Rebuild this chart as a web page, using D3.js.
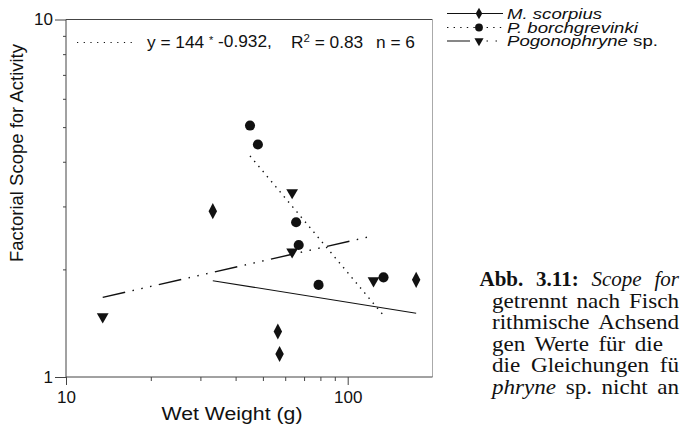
<!DOCTYPE html>
<html><head><meta charset="utf-8">
<script src="https://cdn.jsdelivr.net/npm/d3@7"></script>
<style>
html,body{margin:0;padding:0;background:#fff;}
svg{display:block;}
text{font-family:"Liberation Sans",Arial,sans-serif;fill:#111;}
.serif{font-family:"Liberation Serif","Times New Roman",serif;}
</style></head>
<body>
<svg id="c" width="680" height="427"></svg>
<script>
// ---- data ----
const seriesNames = ["M. scorpius", "P. borchgrevinki", "Pogonophryne sp."];
const mScorpiusWeight = [33.2, 56.5, 57.3, 175];
const mScorpiusScope  = [2.91, 1.34, 1.16, 1.87];
const pBorchWeight = [45.0, 48.0, 65.6, 67.0, 78.8, 134];
const pBorchScope  = [5.05, 4.47, 2.71, 2.34, 1.81, 1.90];
const pogoWeight = [13.5, 63.5, 63.5, 123.5];
const pogoScope  = [1.475, 3.28, 2.24, 1.86];
const xMajorTicks = [10, 100];
const xMinorTicks = [20, 30, 40, 50, 60, 70, 80, 90];
const yMajorTicks = [1, 10];
const yMinorTicks = [2, 3, 4, 5, 6, 7, 8, 9];
const fitText = ["y = 144 ", "*", " -0.932,", "R", "2", " = 0.83", "n = 6"];
const xTitle = "Wet Weight (g)";
const yTitle = "Factorial Scope for Activity";
const captionLines = [
  [["Abb. 3.11:", "b"], [" Scope for", "i"]],
  [["getrennt nach Fisch", ""]],
  [["rithmische Achsend", ""]],
  [["gen Werte für die", ""]],
  [["die Gleichungen fü", ""]],
  [["phryne", "i"], [" sp. nicht an", ""]]
];
const captionEnds = [679, 679, 679, 663, 679, 679];

// ---- setup ----
const svg = d3.select("#c");
const X0 = 66, X1 = 432.5, Y0 = 19.5, Y1 = 377;
const x = d3.scaleLog().domain([10, 200]).range([X0, X1]);
const y = d3.scaleLog().domain([1, 10]).range([Y1, Y0]);
const ink = "#111";

// frame
svg.append("line").attr("x1", X0).attr("x2", X1).attr("y1", Y0).attr("y2", Y0).attr("stroke", "#444");
svg.append("line").attr("x1", X1).attr("x2", X1).attr("y1", Y0).attr("y2", Y1).attr("stroke", "#aaa");
svg.append("line").attr("x1", X0).attr("x2", X1).attr("y1", Y1).attr("y2", Y1).attr("stroke", "#444");
svg.append("line").attr("x1", X0).attr("x2", X0).attr("y1", Y0).attr("y2", Y1).attr("stroke", "#444");

// axes ticks
const gx = svg.append("g").attr("transform", `translate(0,${Y1})`);
gx.call(d3.axisBottom(x).tickValues(xMinorTicks).tickSize(4).tickFormat(""));
gx.select(".domain").remove();
const gx2 = svg.append("g").attr("transform", `translate(0,${Y1})`);
gx2.call(d3.axisBottom(x).tickValues(xMajorTicks).tickSize(8).tickPadding(6).tickFormat(d3.format("d")));
gx2.select(".domain").remove();
gx.selectAll("line").attr("stroke", "#444");
gx2.selectAll("line").attr("stroke", "#444");
gx2.selectAll("text").attr("font-size", 17).attr("font-family", "Liberation Sans").attr("fill", ink);

const gy = svg.append("g").attr("transform", `translate(${X0},0)`);
gy.call(d3.axisLeft(y).tickValues(yMinorTicks).tickSize(3).tickFormat(""));
gy.select(".domain").remove();
const gy2 = svg.append("g").attr("transform", `translate(${X0},0)`);
gy2.call(d3.axisLeft(y).tickValues(yMajorTicks).tickSize(11).tickPadding(2).tickFormat(d3.format("d")));
gy2.select(".domain").remove();
gy.selectAll("line").attr("stroke", "#444");
gy2.selectAll("line").attr("stroke", "#444");
gy2.selectAll("text").attr("font-size", 17).attr("font-family", "Liberation Sans").attr("fill", ink);

// titles
svg.append("text").attr("transform", "translate(232,420) scale(1.12,1)").attr("text-anchor", "middle")
  .attr("font-size", 19).text(xTitle);
svg.append("text").attr("transform", "translate(23,153) rotate(-90)").attr("text-anchor", "middle")
  .attr("font-size", 18.5).text(yTitle);

// regression helper (log-log least squares)
function fit(ws, ss) {
  const lx = ws.map(Math.log10), ly = ss.map(Math.log10);
  const mx = d3.mean(lx), my = d3.mean(ly);
  const b = d3.sum(lx, (v, i) => (v - mx) * (ly[i] - my)) / d3.sum(lx, v => (v - mx) ** 2);
  const a = my - b * mx;
  const [lo, hi] = d3.extent(ws);
  return [[lo, 10 ** (a + b * Math.log10(lo))], [hi, 10 ** (a + b * Math.log10(hi))]];
}
const line = d3.line().x(d => x(d[0])).y(d => y(d[1]));
const styles = [
  {dash: null, sym: d3.symbolDiamond, size: 62, rot: 0},
  {dash: "1.4,5.2", sym: d3.symbolCircle, size: 80, rot: 0},
  {dash: "23,7.5,1.5,7.5,1.5,7.5,1.5,7.5", sym: d3.symbolTriangle, size: 60, rot: 180}
];
const sets = [
  [mScorpiusWeight, mScorpiusScope],
  [pBorchWeight, pBorchScope],
  [pogoWeight, pogoScope]
];
sets.forEach(([ws, ss], k) => {
  svg.append("path").attr("d", line(fit(ws, ss))).attr("fill", "none")
    .attr("stroke", ink).attr("stroke-width", k === 0 ? 1.1 : 1.4)
    .attr("stroke-dasharray", styles[k].dash);
});
sets.forEach(([ws, ss], k) => {
  const st = styles[k];
  const sym = d3.symbol().type(st.sym).size(st.size);
  svg.selectAll(null).data(ws.map((w, i) => [w, ss[i]])).enter().append("path")
    .attr("d", sym)
    .attr("transform", d => `translate(${x(d[0])},${y(d[1])}) rotate(${st.rot})` + (k === 0 ? " scale(1,1.1)" : ""))
    .attr("fill", ink);
});

// fit annotation
svg.append("line").attr("x1", 77).attr("x2", 134).attr("y1", 42.5).attr("y2", 42.5)
  .attr("stroke", ink).attr("stroke-width", 1.2).attr("stroke-dasharray", "1.2,5.5");
const ft = svg.append("text").attr("x", 147).attr("y", 47.5).attr("font-size", 17.3);
ft.append("tspan").text(fitText[0]);
ft.append("tspan").attr("font-size", 11).attr("dy", -4).text(fitText[1]);
ft.append("tspan").attr("dy", 3).text(fitText[2]);
const rt = svg.append("text").attr("x", 291).attr("y", 47.5).attr("font-size", 17.3);
rt.append("tspan").text(fitText[3]);
rt.append("tspan").attr("font-size", 11.5).attr("dy", -6).text(fitText[4]);
rt.append("tspan").attr("dy", 6).text(fitText[5]);
svg.append("text").attr("x", 376).attr("y", 47.5).attr("font-size", 17.3).text(fitText[6]);

// legend
const legY = [13.5, 27.5, 41];
seriesNames.forEach((nm, k) => {
  const st = styles[k];
  svg.append("line").attr("x1", 447).attr("x2", 503).attr("y1", legY[k]).attr("y2", legY[k])
    .attr("stroke", ink).attr("stroke-width", 1.1).attr("stroke-dasharray", st.dash);
  svg.append("path").attr("d", d3.symbol().type(st.sym).size(st.size * 0.6))
    .attr("transform", `translate(479,${legY[k]}) rotate(${st.rot})`).attr("fill", ink);
  const t = svg.append("text").attr("transform", `translate(507,${legY[k] + 5}) scale(1.2,1)`)
    .attr("font-size", 15.5).attr("font-style", "italic");
  if (k === 2) {
    t.append("tspan").text("Pogonophryne");
    t.append("tspan").attr("font-style", "normal").text(" sp.");
  } else t.text(nm);
});

// caption (justified lines fitted to the column edge)
const capX = [479.5, 492, 492, 492, 492, 492];
const capScale = [1.0, 1.1, 1.1, 1.1, 1.1, 1.1];
captionLines.forEach((segs, i) => {
  const t = svg.append("text").attr("class", "serif")
    .attr("transform", `translate(${capX[i]},${286 + i * 21.5}) scale(${capScale[i]},1)`)
    .attr("font-size", 21);
  segs.forEach(([s, f]) => {
    const sp = t.append("tspan").text(s);
    if (f === "b") sp.attr("font-weight", "bold");
    if (f === "i") sp.attr("font-style", "italic");
  });
  const full = segs.map(s => s[0]).join("");
  const nSp = (full.match(/ /g) || []).length;
  const L = t.node().getComputedTextLength();
  const target = (captionEnds[i] - capX[i]) / capScale[i];
  if (nSp > 0) t.attr("word-spacing", Math.max(0, (target - L) / nSp));
});
</script>
</body></html>
